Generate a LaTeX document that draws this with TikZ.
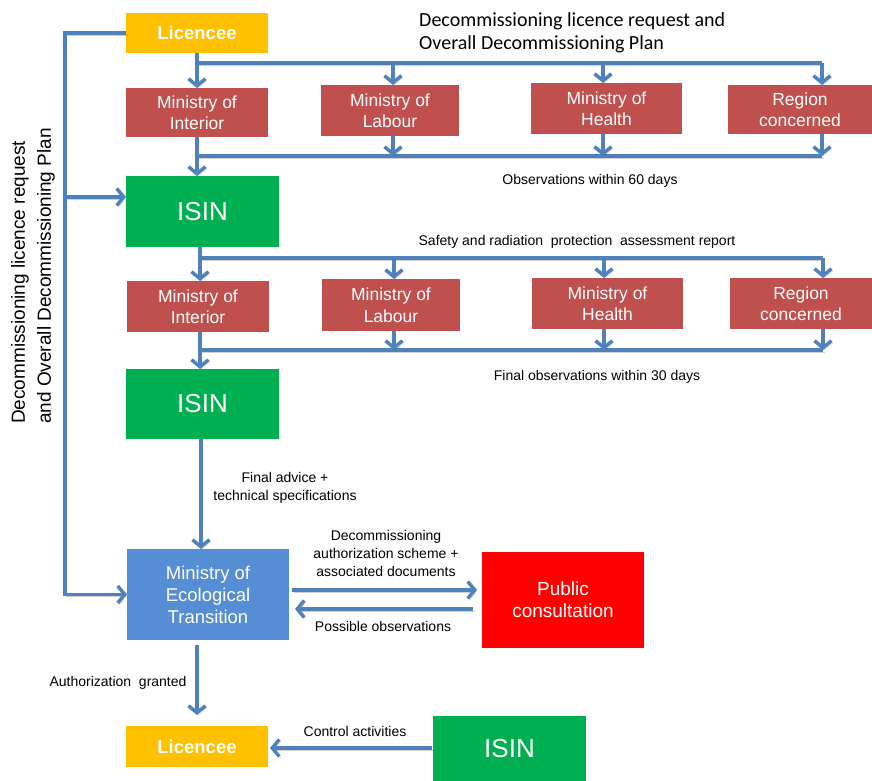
\documentclass[tikz,border=0pt]{standalone}
\usepackage{fontspec}
\setmainfont{Liberation Sans}
\newfontfamily\calib{Carlito}
\usetikzlibrary{arrows.meta}
\definecolor{lineblue}{HTML}{4F81BD}
\definecolor{boxred}{HTML}{C0504D}
\definecolor{boxgreen}{HTML}{00B050}
\definecolor{boxyellow}{HTML}{FFC000}
\definecolor{boxblue}{HTML}{558ED5}
\definecolor{pubred}{HTML}{FF0000}
\tikzset{
  minbox/.style={draw=none, inner sep=0pt, outer sep=0pt, anchor=north west, align=center, text=white},
  redbox/.style={minbox, fill=boxred, font=\fontsize{17.5}{21.5}\selectfont},
  isinbox/.style={minbox, fill=boxgreen, font=\fontsize{26}{30}\selectfont},
  licbox/.style={minbox, fill=boxyellow, font=\fontsize{18.5}{22}\selectfont\bfseries},
  shd/.style={preaction={draw=black, opacity=0.18, transform canvas={xshift=1.5pt,yshift=-2pt}}},
  ln/.style={draw=lineblue, line width=3.5pt, shd},
  arr/.style={ln, -{Straight Barb[length=7pt,width=17pt]}},
  lbl/.style={inner sep=0pt, align=center, font=\fontsize{14}{18}\selectfont},
}
\begin{document}
\begin{tikzpicture}[x=1pt,y=-1pt]
\useasboundingbox (0,0) rectangle (872,781);
% boxes
\node[licbox, minimum width=142, minimum height=40] (lic1) at (126,13) {Licencee};
\node[redbox, minimum width=142, minimum height=49] (int1) at (126,88) {Ministry of\\Interior};
\node[redbox, minimum width=138, minimum height=51] (lab1) at (321,85) {Ministry of\\Labour};
\node[redbox, minimum width=151, minimum height=51] (hea1) at (531,83) {Ministry of\\Health};
\node[redbox, minimum width=144, minimum height=49] (reg1) at (728,85) {Region\\concerned};
\node[isinbox, minimum width=153, minimum height=71] (isin1) at (126,176) {ISIN};
\node[redbox, minimum width=142, minimum height=51] (int2) at (127,281) {Ministry of\\Interior};
\node[redbox, minimum width=138, minimum height=52] (lab2) at (322,279) {Ministry of\\Labour};
\node[redbox, minimum width=151, minimum height=51] (hea2) at (532,278) {Ministry of\\Health};
\node[redbox, minimum width=142, minimum height=51] (reg2) at (730,278) {Region\\concerned};
\node[isinbox, minimum width=153, minimum height=70] (isin2) at (126,369) {ISIN};
\node[minbox, fill=boxblue, font=\fontsize{18.5}{22}\selectfont, minimum width=162, minimum height=91] (eco) at (127,549) {Ministry of\\Ecological\\Transition};
\node[minbox, fill=pubred, font=\fontsize{19}{22}\selectfont, minimum width=162, minimum height=96] (pub) at (482,552) {Public\\consultation};
\node[licbox, minimum width=142, minimum height=41] (lic2) at (126,726) {Licencee};
\node[isinbox, minimum width=153, minimum height=65] (isin3) at (433,716) {ISIN};

% title and labels
\node[inner sep=0pt, anchor=west, align=left, font=\calib\fontsize{20}{22.5}\selectfont] (title) at (419,33) {Decommissioning licence request and\\Overall Decommissioning Plan};
\node[inner sep=0pt, rotate=90, anchor=west, align=left, font=\fontsize{19}{26}\selectfont] (side) at (33,424) {Decommissioning licence request\\and Overall Decommissioning Plan};
\node[lbl] (obs60) at (590,181) {Observations within 60 days};
\node[lbl] (safety) at (577,242) {Safety and radiation\ \ protection\ \ assessment report};
\node[lbl] (obs30) at (597,377) {Final observations within 30 days};
\node[lbl] (advice) at (285,488) {Final advice +\\technical specifications};
\node[lbl] (scheme) at (386,553) {Decommissioning\\authorization scheme +\\associated documents};
\node[lbl] (possobs) at (383,626) {Possible observations};
\node[lbl] (authgr) at (118,683) {Authorization\ \ granted};
\node[lbl] (ctrl) at (355,731) {Control activities};

% first distribution
\coordinate (b1L) at (197,63);
\coordinate (b1a) at (393,63);
\coordinate (b1b) at (603,63);
\coordinate (b1R) at (822,63);
\draw[ln] (b1L) -- (b1R);
\draw[arr] (lic1.south) -- (int1.north);
\draw[arr] (b1a) -- (b1a |- lab1.north);
\draw[arr] (b1b) -- (b1b |- hea1.north);
\draw[arr] (b1R) -- (b1R |- reg1.north);
% first collection
\coordinate (b2L) at (197,156);
\coordinate (b2a) at (393,156);
\coordinate (b2b) at (603,156);
\coordinate (b2R) at (822,156);
\draw[ln] (b2L) -- (b2R);
\draw[arr] (int1.south) -- (int1.south |- isin1.north);
\draw[arr] (b2a |- lab1.south) -- (b2a);
\draw[arr] (b2b |- hea1.south) -- (b2b);
\draw[arr] (b2R |- reg1.south) -- (b2R);
% left loop
\coordinate (lx) at (65,197);
\draw[arr] (lic1.west) -| (lx) |- (eco.west);
\draw[arr] (lx) -- (lx -| isin1.west);
% second distribution
\coordinate (b3L) at (200,258);
\coordinate (b3a) at (394,258);
\coordinate (b3b) at (604,258);
\coordinate (b3R) at (823,258);
\draw[ln] (b3L) -- (b3R);
\draw[arr] (b3L |- isin1.south) -- (b3L |- int2.north);
\draw[arr] (b3a) -- (b3a |- lab2.north);
\draw[arr] (b3b) -- (b3b |- hea2.north);
\draw[arr] (b3R) -- (b3R |- reg2.north);
% second collection
\coordinate (b4L) at (200,350);
\coordinate (b4a) at (394,350);
\coordinate (b4b) at (604,350);
\coordinate (b4R) at (823,350);
\draw[ln] (b4L) -- (b4R);
\draw[arr] (b4L |- int2.south) -- (b4L |- isin2.north);
\draw[arr] (b4a |- lab2.south) -- (b4a);
\draw[arr] (b4b |- hea2.south) -- (b4b);
\draw[arr] (b4R |- reg2.south) -- (b4R);
% ISIN to ministry
\coordinate (v1) at (201,439);
\draw[arr] (v1) -- (v1 |- eco.north);
% ministry <-> public
\coordinate (e1) at (292,590);
\coordinate (p1) at (473,609);
\draw[arr, shorten >=5pt] (e1) -- (e1 -| pub.west);
\draw[arr, shorten >=6pt] (p1) -- (p1 -| eco.east);
% ministry to licencee
\draw[arr, shorten <=5pt, shorten >=11pt] (lic2.north |- eco.south) -- (lic2.north);
% ISIN control
\coordinate (c1) at (432,748);
\draw[arr, shorten >=2pt] (c1) -- (c1 -| lic2.east);
\end{tikzpicture}
\end{document}
